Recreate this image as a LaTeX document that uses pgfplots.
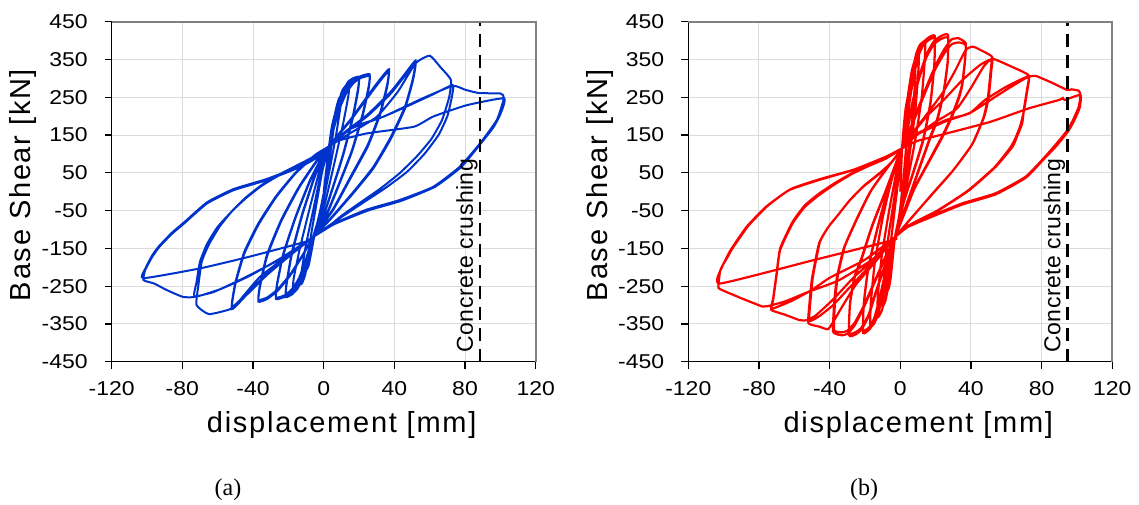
\documentclass[border=0pt]{standalone}
\usepackage{pgfplots}
\pgfplotsset{compat=1.18}
\usepackage{fontspec}
\setmainfont{Liberation Sans}
\newfontfamily\labelfont[LetterSpace=6]{Liberation Sans}
\newfontfamily\notefont[LetterSpace=2]{Liberation Sans}
\newfontfamily\tickfont[FakeStretch=1.15]{Liberation Sans}
\newfontfamily\capfont{Liberation Serif}
\definecolor{cblue}{RGB}{0,51,204}
\definecolor{cred}{RGB}{255,0,0}
\pgfplotsset{
  hyst/.style={
    scale only axis, width=212pt, height=170pt,
    xmin=-120, xmax=120, ymin=-450, ymax=450,
    axis lines=left, axis line style={-, black, line width=0.6pt},
    xtick={-120,-80,-40,0,40,80,120},
    xticklabels={-120,-80,-40,0,40,80,120},
    ytick={-450,-350,-250,-150,-50,50,150,250,350,450},
    yticklabels={-450,-350,-250,-150,-50,50,150,250,350,450},
    tick align=outside, major tick length=3.5pt,
    tick style={black, line width=0.6pt},
    grid=major, major grid style={line width=0.5pt, draw=black!14},
    ticklabel style={font=\tickfont\fontsize{10}{12}\selectfont},
    xticklabel style={yshift=-3pt},
    yticklabel style={xshift=-5pt},
    clip=false,
  }
}
\begin{document}
\begin{tikzpicture}
\useasboundingbox (0,0) rectangle (569.5pt,252pt);
% ---------------- panel (a)
\begin{axis}[hyst, at={(55.85pt,71.15pt)}, anchor=south west]
\addplot[cblue, line width=1pt, smooth, tension=0.3] coordinates {
(0,0) (1.5,60) (3,120) (4.5,170) (6,200) (6.5,205)
(6,180) (4,110) (1,20) (-2,-50) (-5,-110) (-7,-160) (-8.5,-195) (-9.5,-205)
(-9,-180) (-7,-110) (-4,-30) (-1,50) (1.5,95) (3,120)
(5,175) (7,220) (8.5,245) (10,255)
(9.5,225) (7,150) (3,50) (-1,-40) (-6,-120) (-8.5,-175) (-10.5,-220) (-12,-240) (-13,-245)
(-12.5,-210) (-10,-140) (-6,-50) (-2,40) (1,95) (3,120)
(5.5,180) (8,230) (10.5,268) (13,283) (14.5,287)
(14,255) (11,180) (6,75) (1,-25) (-3,-85) (-6,-120) (-9,-180) (-12,-230) (-15,-258) (-17.5,-267)
(-17,-230) (-13.5,-150) (-8,-45) (-3,45) (0,95) (3,120)
(5.5,180) (8,228) (11,268) (14,292) (17,301) (20,304)
(19.5,275) (16.5,200) (11,100) (5,10) (0,-60) (-6,-120) (-9,-175) (-12,-225) (-15,-257) (-18,-272) (-21.5,-279)
(-21,-245) (-18,-165) (-12,-60) (-5,40) (0,95) (3,120)
(6,182) (8.5,228) (11.5,266) (14.5,289) (17.5,297) (20,299)
(19.5,268) (16.5,195) (11,96) (5,7) (0,-63) (-6,-120) (-9.5,-177) (-12.5,-226) (-15.5,-256) (-18.5,-269) (-21.5,-274)
(-21,-240) (-18,-160) (-12,-56) (-5,43) (0,96) (3,120)
(6,175) (9,225) (13,268) (17,293) (21,306) (26,311)
(25.5,280) (22,205) (16,110) (9,25) (2,-55) (-6,-120) (-10,-180) (-14,-232) (-18,-262) (-22,-278) (-27,-284)
(-26.5,-250) (-23,-170) (-16,-70) (-8,25) (-1,90) (3,120)
(6,172) (9,220) (13,263) (17,288) (21,301) (26,306)
(25.5,274) (22,200) (16,106) (9,22) (2,-58) (-6,-120) (-10,-178) (-14,-229) (-18,-258) (-22,-274) (-27,-280)
(-26.5,-246) (-23,-166) (-16,-67) (-8,28) (-1,92) (3,120)
(8,150) (15,190) (22,235) (29,280) (34,310) (37,324)
(36,285) (32,210) (25,125) (15,38) (5,-48) (-6,-120) (-12,-170) (-19,-222) (-26,-262) (-32,-284) (-37,-291)
(-36,-250) (-32,-170) (-24,-78) (-14,10) (-4,80) (3,120)
(8,148) (15,187) (22,231) (29,275) (34,305) (37,318)
(36,279) (32,205) (25,120) (15,34) (5,-51) (-6,-120) (-12,-168) (-19,-219) (-26,-258) (-32,-280) (-37,-286)
(-36,-245) (-32,-165) (-24,-74) (-14,13) (-4,82) (3,120)
(12,158) (25,205) (38,265) (46,312) (52,347)
(50.5,300) (46,225) (38,145) (28,65) (16,-5) (4,-70) (-6,-120) (-18,-165) (-32,-220) (-44,-275) (-52,-311)
(-50,-245) (-45,-165) (-37,-88) (-27,-15) (-16,48) (-5,95) (3,120)
(12,155) (25,201) (38,260) (46,307) (52,340)
(50.5,294) (46,220) (38,140) (28,61) (16,-8) (4,-72) (-6,-120) (-18,-163) (-32,-217) (-44,-271) (-52,-305)
(-50,-240) (-45,-160) (-37,-84) (-27,-12) (-16,50) (-5,97) (3,120)
(15,155) (30,198) (42,265) (52,340) (60,360) (66,330) (72,296)
(71,250) (67,190) (61,140) (53,95) (43,49) (32,8) (20,-31) (10,-64) (2,-95) (-6,-120)
(-20,-168) (-36,-225) (-48,-290) (-53,-311) (-65,-324) (-72,-300)
(-71,-250) (-69,-185) (-65,-140) (-59,-93) (-52,-52) (-44,-15) (-35,18) (-25,46) (-15,70) (-6,92) (3,120)
(15,168) (34,199) (50,232) (62,258) (73,282)
(72.5,250) (70,200) (65,150) (57,100) (47,52) (35,10) (22,-30) (11,-64) (2,-93) (-6,-120)
(-24,-175) (-42,-223) (-58,-257) (-73,-278)
(-72,-240) (-70,-185) (-66,-138) (-60,-93) (-52,-52) (-44,-17) (-35,16) (-25,44) (-15,68) (-6,90) (3,120)
(15,166) (34,199) (55,245) (73,280) (80,270) (88,261) (100,260) (102,248)
(98,190) (88.5,128) (77,66) (62,13) (43,-22) (24,-48) (6,-84) (-6,-120)
(-24,-177) (-45,-228) (-62,-265) (-74,-279) (-80,-278) (-89,-260) (-96,-243) (-102,-234)
(-101,-207) (-97,-172) (-93,-146) (-86,-112) (-79,-84) (-66,-31) (-51,4) (-32,31) (-13,66) (0,101) (3,120)
(6,132) (24,154) (51,172) (62,199) (81,229) (102,247)
(100,205) (96,170) (89,128) (78,66) (63,13) (44,-24) (25,-50) (6,-86) (-6,-120)
(-10,-132) (-42,-172) (-70,-203) (-102,-229)
(-101,-204) (-97,-168) (-93,-143) (-86,-109) (-79,-81) (-66,-28) (-51,7) (-32,34) (-13,69) (0,103) (3,120)
};
\addplot[black, line width=1.4pt, dash pattern=on 6.5pt off 4pt] coordinates {(88.5,-450) (88.5,450)};
\node[rotate=90, anchor=south west, inner sep=1pt, font=\notefont\fontsize{11.5}{13}\selectfont] at (axis cs:88.5,-432) {Concrete crushing};
\draw[black!50, line width=0.9pt] (rel axis cs:0,1) -- (rel axis cs:1,1) -- (rel axis cs:1,0);
\end{axis}
% ---------------- panel (b)
\begin{axis}[hyst, at={(344.15pt,71.15pt)}, anchor=south west]
\addplot[cred, line width=1.1pt, smooth, tension=0.3] coordinates {
(0,0) (0.5,60) (1,115) (2,175) (3,220) (4,245) (5,252)
(4.7,215) (3.5,130) (1.5,20) (-0.5,-60) (-3,-120) (-4.5,-185) (-5.5,-230) (-6.5,-255) (-7.5,-262)
(-7.2,-225) (-5.5,-140) (-3,-40) (-0.5,55) (1,115)
(2.5,185) (4,245) (5.5,290) (7,315) (8.5,322)
(8.2,280) (6.5,180) (3.5,70) (0.5,-40) (-3,-120) (-5,-190) (-7,-255) (-8.5,-290) (-10,-302)
(-9.7,-255) (-8,-160) (-4.5,-50) (-1,55) (1,115)
(2.5,180) (4.5,260) (6.5,320) (8.5,352) (10.5,363)
(10.2,320) (8.5,215) (5,90) (1.5,-35) (-3,-120) (-6,-205) (-8.5,-275) (-10.5,-315) (-13,-333)
(-12.7,-275) (-10.5,-170) (-6.5,-55) (-2.5,45) (1,115)
(3,175) (5,255) (7,320) (9,365) (11,388) (14,398)
(13.8,345) (12,245) (8,125) (3,5) (-3,-120) (-7,-205) (-10,-275) (-13,-330) (-15,-350) (-17,-357)
(-16.7,-295) (-14.5,-190) (-10,-70) (-5,30) (-1,90) (1,115)
(3,170) (5.5,250) (8,320) (10.5,368) (13,395) (16,408) (19.5,412)
(19.2,335) (17,235) (13,140) (7.5,55) (2,-25) (-3,-120) (-8,-205) (-11.5,-280) (-14.5,-335) (-17,-362) (-21,-374)
(-20.7,-300) (-18,-200) (-12.5,-90) (-6,20) (-1,90) (1,115)
(3,168) (5.5,246) (8,315) (10.5,362) (13,388) (16,401) (19.5,405)
(19.2,330) (17,231) (13,136) (7.5,52) (2,-27) (-3,-120) (-8,-203) (-11.5,-277) (-14.5,-331) (-17,-356) (-21,-367)
(-20.7,-296) (-18,-197) (-12.5,-87) (-6,22) (-1,91) (1,115)
(4,165) (7,240) (11,310) (15,365) (19,398) (23,412) (27,415)
(26.8,345) (24.5,265) (21,195) (16.5,140) (9,40) (3,-40) (-3,-120) (-9,-200) (-14,-270) (-18,-330) (-22,-365) (-25,-377) (-29,-380)
(-28.5,-300) (-26,-230) (-22,-180) (-16,-93) (-8,4) (-2,80) (1,115)
(4,162) (7,236) (11,305) (15,358) (19,390) (23,404) (27,407)
(26.8,340) (24.5,260) (21,190) (16.5,136) (9,37) (3,-42) (-3,-120) (-9,-198) (-14,-267) (-18,-326) (-22,-360) (-25,-371) (-29,-374)
(-28.5,-296) (-26,-226) (-22,-176) (-16,-90) (-8,6) (-2,82) (1,115)
(5,160) (10,220) (15,280) (20,335) (25,378) (29,403) (33,406) (37,393)
(36.5,345) (35,285) (33,250) (29,200) (24,150) (16,80) (8,10) (2,-60) (-3,-120)
(-9,-180) (-15,-245) (-21,-310) (-26,-355) (-30,-376) (-33,-380) (-38,-371)
(-37.5,-300) (-36,-230) (-32,-150) (-25,-75) (-17,0) (-8,60) (1,115)
(5,157) (10,215) (15,273) (20,326) (25,367) (29,390) (33,395) (37,388)
(36.5,340) (35,280) (33,245) (29,196) (24,146) (16,77) (8,8) (2,-62) (-3,-120)
(-9,-178) (-15,-242) (-21,-305) (-26,-348) (-30,-368) (-33,-372) (-37.5,-366)
(-37,-296) (-35.5,-226) (-31.5,-146) (-24.5,-72) (-16.5,3) (-7.5,62) (1,115)
(6,150) (15,205) (24,262) (31,320) (37,375) (41,384) (45,376) (52,357)
(51.5,320) (50,250) (47.5,199) (41,128) (30,57) (18.4,-4) (7,-66) (-3,-120)
(-14,-185) (-25,-245) (-33,-305) (-38,-345) (-41,-364) (-46,-357) (-52,-348)
(-51.5,-300) (-50,-230) (-46,-137) (-41,-95) (-36,-66) (-29,-25) (-21,13) (-12,47) (-5,78) (1,115)
(6,148) (15,200) (25,245) (35,295) (45,335) (51.5,350)
(51,314) (49.5,246) (47,195) (40.5,124) (29.5,54) (18,-7) (6.5,-68) (-3,-120)
(-15,-185) (-27,-245) (-38,-300) (-46,-330) (-51.5,-342)
(-51,-296) (-49.5,-226) (-45.5,-133) (-40.5,-92) (-35.5,-63) (-28.5,-22) (-20.5,16) (-11.5,50) (-4.5,80) (1,115)
(8,145) (20,185) (32,220) (40,275) (47,330) (52,352) (62,333) (72.5,309)
(72,278) (70,220) (69,181) (66,145) (63.5,119) (54,66) (39,4) (22,-48) (7,-84) (-3,-120)
(-14,-175) (-26,-225) (-38,-285) (-48,-328) (-53,-340) (-57,-340) (-65,-326) (-73,-313)
(-72,-287) (-70,-220) (-68,-154) (-61,-84) (-54,-40) (-46,-9) (-37,20) (-27,48) (-17,70) (-8,88) (1,115)
(8,150) (26,190) (39,207) (48,243) (60,278) (72.5,305)
(72,272) (70,215) (68,176) (65,140) (62,115) (53,63) (38,2) (21,-50) (6,-86) (-3,-120)
(-20,-180) (-40,-228) (-50,-260) (-62,-290) (-73,-310)
(-72,-283) (-70,-215) (-68,-150) (-61,-80) (-54,-36) (-46,-5) (-37,23) (-27,50) (-17,72) (-8,90) (1,115)
(8,148) (25,185) (40,210) (55,255) (67,290) (73,305) (77,306) (86,288) (94.6,269) (97,271) (101,267) (102,256)
(101,225) (98,192) (94.6,163) (88,125) (82,93) (71,40) (54,-4) (35,-31) (16.5,-66) (3,-93) (-3,-120)
(-16,-180) (-35,-235) (-52,-265) (-65,-290) (-75,-303) (-78,-304) (-90,-282) (-102,-258) (-103,-250)
(-102,-210) (-100,-190) (-96,-154) (-87,-93) (-76,-40) (-63,4) (-46,31) (-27,57) (-8,93) (1,115)
(10,135) (26,154) (51,185) (73,221) (90,243) (92,248) (93,243) (102,256)
(101.5,222) (98.5,189) (95,160) (88.5,122) (82,90) (71,37) (54,-7) (35,-34) (16.5,-69) (3,-96) (-3,-120)
(-4,-128) (-49,-181) (-102,-243)
(-101,-200) (-98,-175) (-95,-150) (-86,-90) (-75,-37) (-62,7) (-45,34) (-26,59) (-7,95) (1,115)
};
\addplot[black, line width=1.4pt, dash pattern=on 6.5pt off 4pt] coordinates {(94.6,-450) (94.6,450)};
\node[rotate=90, anchor=south west, inner sep=1pt, font=\notefont\fontsize{11.5}{13}\selectfont] at (axis cs:94.6,-432) {Concrete crushing};
\draw[black!50, line width=0.9pt] (rel axis cs:0,1) -- (rel axis cs:1,1) -- (rel axis cs:1,0);
\end{axis}
% ---------------- labels
\node[rotate=90, font=\labelfont\fontsize{14.5}{17}\selectfont] at (11.5pt,159.5pt) {Base Shear [kN]};
\node[font=\labelfont\fontsize{14.5}{17}\selectfont] at (170.85pt,39.5pt) {displacement [mm]};
\node[rotate=90, font=\labelfont\fontsize{14.5}{17}\selectfont] at (299.8pt,159.5pt) {Base Shear [kN]};
\node[font=\labelfont\fontsize{14.5}{17}\selectfont] at (459.15pt,39.5pt) {displacement [mm]};
\node[font=\capfont\fontsize{12}{14}\selectfont] at (114pt,7pt) {(a)};
\node[font=\capfont\fontsize{12}{14}\selectfont] at (432pt,7pt) {(b)};
\end{tikzpicture}
\end{document}
